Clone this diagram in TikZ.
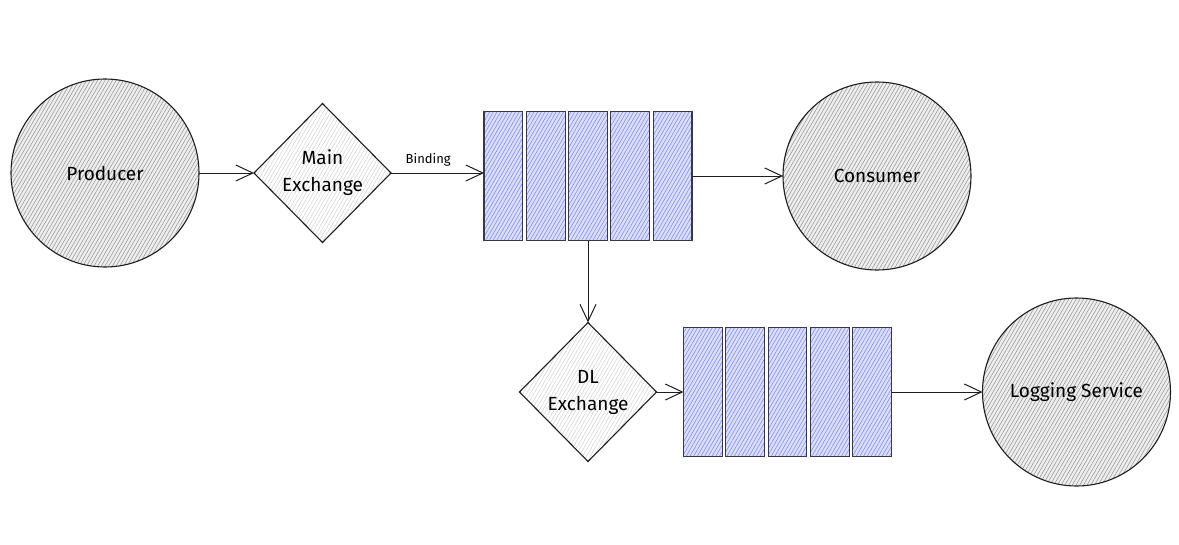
\documentclass[tikz,border=0pt]{standalone}
\usepackage{fontspec}
\setmainfont{Fira Sans}
\usetikzlibrary{positioning,shapes.geometric,arrows.meta,patterns.meta}
\definecolor{InkGray}{RGB}{30,30,30}
\definecolor{HatchGray}{RGB}{150,150,150}
\definecolor{PaleGray}{RGB}{238,238,238}
\definecolor{QueueBlue}{RGB}{218,222,250}
\definecolor{HatchBlue}{RGB}{128,138,228}
\definecolor{QueueEdge}{RGB}{55,57,75}

\begin{document}
\begin{tikzpicture}[
        x=1pt, y=-1pt,
        node distance=3.5pt,
        service/.style={circle, draw=InkGray, line width=1.1pt, minimum size=188pt,
                        inner sep=0pt, outer sep=0pt, preaction={fill=PaleGray},
                        pattern={Lines[angle=60, distance=3.2pt, line width=0.55pt]},
                        pattern color=HatchGray, font=\fontsize{19}{22}\selectfont},
        exchange/.style={diamond, aspect=1, draw=InkGray, line width=1.1pt,
                         minimum width=137pt, minimum height=139pt, inner sep=0pt,
                         outer sep=0pt, align=center, preaction={fill=white},
                         pattern={Lines[angle=60, distance=3.2pt, line width=0.5pt]},
                         pattern color=gray!35, font=\fontsize{19}{27}\selectfont},
        cell/.style={rectangle, draw=QueueEdge, line width=1.1pt, minimum width=38.8pt,
                     minimum height=129pt, inner sep=0pt, outer sep=0pt,
                     preaction={fill=QueueBlue},
                     pattern={Lines[angle=60, distance=3.2pt, line width=0.55pt]},
                     pattern color=HatchBlue},
        arrow/.style={-{Straight Barb[length=17pt, width=16pt]}, line width=1pt, draw=InkGray}
    ]
        \useasboundingbox (0,0) rectangle (1179,544);

        % main path
        \node[service] (prod) at (105,173) {Producer};
        \node[exchange, right=55pt of prod] (mainx) {Main\\Exchange};
        \node[cell, right=93pt of mainx, yshift=-3pt] (q1) {};
        \foreach \i [count=\j from 2] in {1,...,4}
            \node[cell, right=of q\i] (q\j) {};
        \node[service, right=91pt of q5] (cons) {Consumer};

        % dead letter path
        \node[exchange, below=82pt of q3] (dlx) {DL\\Exchange};
        \node[cell, right=27pt of dlx] (r1) {};
        \foreach \i [count=\j from 2] in {1,...,4}
            \node[cell, right=of r\i] (r\j) {};
        \node[service, right=91pt of r5] (logsvc) {Logging Service};

        \draw[arrow] (prod) -- (prod -| mainx.west);
        \draw[arrow] (mainx.east) -- (mainx.east -| q1.west)
            node[above=3pt, pos=0.4, font=\fontsize{13}{15}\selectfont] (bindlbl) {Binding};
        \draw[arrow] (q5) -- (cons);
        \draw[arrow] (q3) -- (dlx);
        \draw[arrow] (dlx) -- (r1);
        \draw[arrow] (r5) -- (logsvc);
    \end{tikzpicture}
\end{document}
